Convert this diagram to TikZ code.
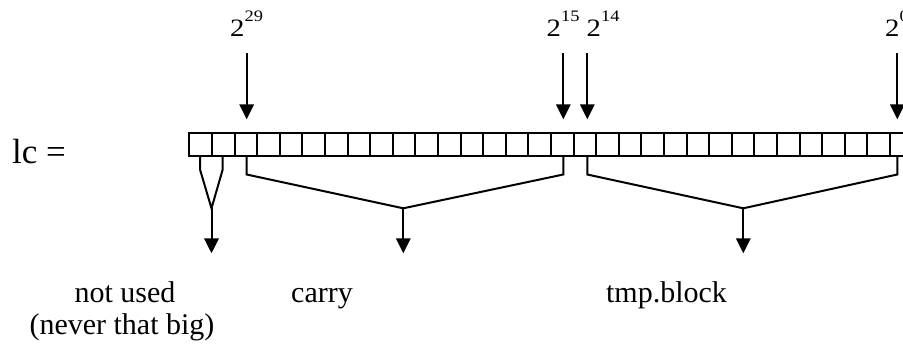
\documentclass[tikz,border=0pt]{standalone}
\usepackage{fontspec}
\setmainfont{Liberation Serif}
\usetikzlibrary{arrows.meta}
% power-of-two bit label: a "2" with the exponent set on top of it
\newcommand\powtwo[1]{\scalebox{1.15}[1]{2\raisebox{15pt}{\fontsize{16}{16}\selectfont #1}}}
\begin{document}
\begin{tikzpicture}[x=1pt,y=-1pt,
  cell/.style={draw, line width=2pt, minimum width=22.6pt, minimum height=22.7pt,
               inner sep=0pt, outer sep=0pt},
  arr/.style={line width=2pt, -{Triangle[length=15pt,width=14.5pt]}},
  brk/.style={line width=2pt, line join=miter},
  bitlab/.style={anchor=base west, inner sep=0pt, font=\fontsize{25}{25}\selectfont},
  txt/.style={anchor=base, inner sep=0pt, font=\fontsize{30}{32}\selectfont}]
\useasboundingbox (0,0) rectangle (903,346);
\clip (0,0) rectangle (903,346);

% the 32-bit word
\node[anchor=base west, inner sep=0pt, font=\fontsize{35}{35}\selectfont] (lc) at (12,163.3) {lc =};
\foreach \k in {0,...,31}
  \node[cell] (c\k) at ({189.3+(\k+0.5)*22.6},144.65) {};

% bit position labels and their arrows
\node[bitlab] (p29) at (230,36) {\powtwo{29}};
\node[bitlab] (p15) at (546.5,36) {\powtwo{15}};
\node[bitlab] (p14) at (586.5,36) {\powtwo{14}};
\node[bitlab] (p0)  at (885,36)  {\powtwo{0}};

\coordinate (t29) at (246.7,53.3); \coordinate (h29) at (246.7,119.3);
\coordinate (t15) at (563.3,53.3); \coordinate (h15) at (563.3,119.3);
\coordinate (t14) at (587.3,53.3); \coordinate (h14) at (587.3,119.3);
\coordinate (t0)  at (897.3,53.3); \coordinate (h0)  at (897.3,119.3);
\draw[arr] (t29) -- (h29);
\draw[arr] (t15) -- (h15);
\draw[arr] (t14) -- (h14);
\draw[arr] (t0) -- (h0);

% field brackets
\coordinate (nu) at (211.5,208.3);
\coordinate (ca) at (403.3,208.3);
\coordinate (tb) at (743.3,208.3);
\draw[brk] (200,156) -- (200,169.5) -- (nu) -- (222.7,169.5) -- (222.7,156);
\draw[brk] (246.7,156) -- (246.7,174.5) -- (ca) -- (563.3,174.5) -- (563.3,156);
\draw[brk] (587.3,156) -- (587.3,174.5) -- (tb) -- (897.3,174.5) -- (897.3,156);

% field names
\node[txt] (lnu)  at (125,302.3) {not used};
\node[txt] (lnu2) at (122,334.3) {(never that big)};
\node[txt] (lca)  at (322,302.3) {carry};
\node[txt] (ltb)  at (666.5,302.8) {tmp.block};

\coordinate (anu) at (211.5,253.3);
\coordinate (aca) at (403.3,253.3);
\coordinate (atb) at (743.3,253.3);
\draw[arr] (nu) -- (anu);
\draw[arr] (ca) -- (aca);
\draw[arr] (tb) -- (atb);
\end{tikzpicture}
\end{document}
